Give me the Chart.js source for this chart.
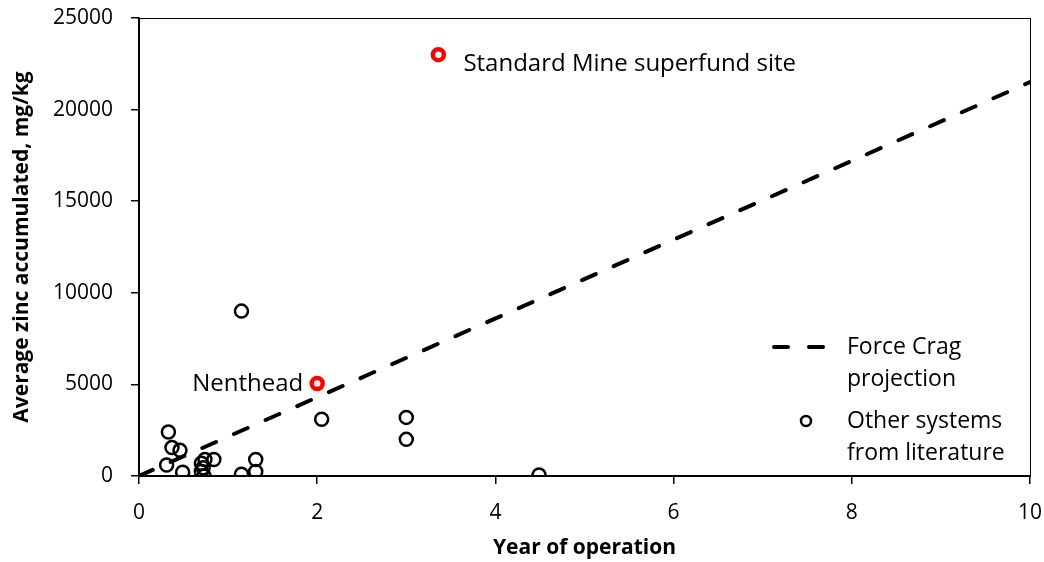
<!doctype html>
<html>
<head>
<title>Zinc accumulation vs. year of operation</title>
<script src="https://cdn.jsdelivr.net/npm/chart.js@4.4.9/dist/chart.umd.min.js"></script>
<script>

// other systems from literature: [year, mg/kg]
const otherYears = [0.33, 0.37, 0.46, 0.31, 0.49, 0.73, 0.70, 0.72, 0.70, 0.74, 0.84,
                    1.15, 1.15, 1.31, 1.31, 2.05, 3.0, 3.0, 4.49];
const otherZinc  = [2400, 1550, 1400, 600, 200, 0, 700, 450, 250, 900, 900,
                    9000, 100, 900, 250, 3100, 3200, 2000, 50];

// highlighted sites
const siteNames = ['Nenthead', 'Standard Mine superfund site'];
const siteYears = [2.0, 3.36];
const siteZinc  = [5050, 23000];

// Force Crag projection
const projYears = [0, 10];
const projZinc  = [0, 21500];

const xTicks = [0, 2, 4, 6, 8, 10];
const FONT = '"Open Sans", "DejaVu Sans", sans-serif';

const toPts = (xs, ys) => xs.map((x, i) => ({ x, y: ys[i] }));

// frame, point labels and the legend box
const extras = {
  id: 'extras',
  afterDraw(chart) {
    const { ctx, chartArea: a } = chart;
    ctx.save();
    ctx.strokeStyle = '#000';
    ctx.lineWidth = 1;
    ctx.strokeRect(a.left + 0.5, a.top + 0.5, a.right - a.left, a.bottom - a.top);

    ctx.fillStyle = '#000';
    ctx.font = '24px ' + FONT;
    ctx.textBaseline = 'middle';
    const meta = chart.getDatasetMeta(2);
    meta.data.forEach((pt, i) => {
      if (i === 0) {
        ctx.textAlign = 'right';
        ctx.fillText(siteNames[i], pt.x - 14, pt.y + 1);
      } else {
        ctx.textAlign = 'left';
        ctx.fillText(siteNames[i], pt.x + 25, pt.y + 10);
      }
    });

    // legend
    const lx = a.right - 258, ly = a.top + 329;
    ctx.setLineDash([14, 21]);
    ctx.lineWidth = 4;
    ctx.lineCap = 'round';
    ctx.beginPath();
    ctx.moveTo(lx + 2, ly);
    ctx.lineTo(lx + 52, ly);
    ctx.stroke();
    ctx.setLineDash([]);
    ctx.lineWidth = 2.5;
    ctx.beginPath();
    ctx.arc(lx + 34, ly + 74, 5, 0, Math.PI * 2);
    ctx.stroke();
    ctx.font = '23px ' + FONT;
    ctx.textAlign = 'left';
    ctx.fillText('Force Crag', lx + 75, ly);
    ctx.fillText('projection', lx + 75, ly + 32);
    ctx.fillText('Other systems', lx + 75, ly + 74);
    ctx.fillText('from literature', lx + 75, ly + 106);
    ctx.restore();
  }
};

function go() {
  Chart.defaults.font.family = FONT;
  Chart.defaults.color = '#000';

  new Chart(document.getElementById('zinc'), {
    type: 'scatter',
    data: {
      datasets: [
        {
          type: 'line',
          label: 'Force Crag projection',
          data: toPts(projYears, projZinc),
          borderColor: '#000',
          borderWidth: 4,
          borderDash: [15, 19.6],
          borderCapStyle: 'round',
          pointRadius: 0,
          fill: false,
        },
        {
          label: 'Other systems from literature',
          data: toPts(otherYears, otherZinc),
          pointStyle: 'circle',
          pointRadius: 6.5,
          borderWidth: 2.5,
          borderColor: '#000',
          backgroundColor: 'transparent',
        },
        {
          label: 'Sites',
          data: toPts(siteYears, siteZinc),
          pointStyle: 'circle',
          pointRadius: 5.5,
          borderWidth: 4.5,
          borderColor: '#f00',
          backgroundColor: '#fff',
        },
      ],
    },
    options: {
      responsive: false,
      animation: false,
      layout: { padding: { top: 18, right: 14, left: 0, bottom: 0 } },
      plugins: { legend: { display: false }, tooltip: { enabled: false } },
      scales: {
        x: {
          type: 'linear',
          min: 0, max: 10,
          afterFit(s) { s.height = 86; s.paddingLeft = 0; s.paddingRight = 0; },
          afterBuildTicks(s) { s.ticks = xTicks.map(v => ({ value: v })); },
          grid: { drawOnChartArea: false, tickLength: 8, color: '#000', lineWidth: 1.5 },
          border: { color: '#000', width: 1.5 },
          ticks: { font: { size: 21 }, padding: 16, maxRotation: 0 },
          title: {
            display: true,
            text: 'Year of operation',
            font: { size: 21, weight: 'bold' },
            padding: { top: 0, bottom: 1 },
          },
        },
        y: {
          min: 0, max: 25000,
          afterFit(s) { s.width = 139; s.paddingTop = 0; s.paddingBottom = 0; },
          grid: { drawOnChartArea: false, tickLength: 8, color: '#000', lineWidth: 1.5 },
          border: { color: '#000', width: 1.5 },
          ticks: { stepSize: 5000, font: { size: 21 }, padding: 18, callback: v => String(v) },
          title: {
            display: true,
            text: 'Average zinc accumulated, mg/kg',
            font: { size: 21, weight: 'bold' },
            padding: { top: 9, bottom: 0 },
          },
        },
      },
    },
    plugins: [extras],
  });
}

window.onload = go;

</script>
</head>
<body style="margin:0;background:#fff">
<canvas id="zinc" width="1044" height="562"></canvas>
</body>
</html>
